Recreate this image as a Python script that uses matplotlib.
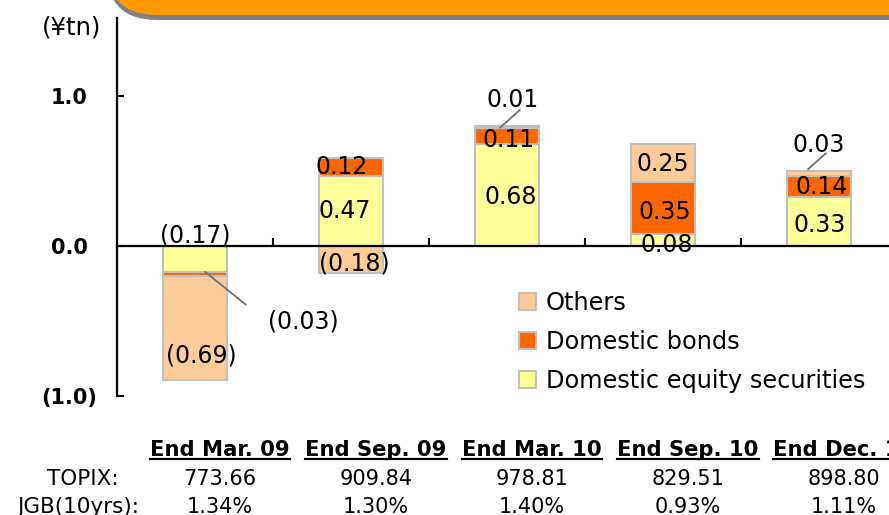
import matplotlib
matplotlib.use('Agg')
import matplotlib.pyplot as plt
import numpy as np
from matplotlib.patches import FancyBboxPatch, Patch
from matplotlib.lines import Line2D
from matplotlib.transforms import IdentityTransform, offset_copy, blended_transform_factory, ScaledTranslation

plt.rcParams['font.family'] = ['DejaVu Sans']

periods = ['End Mar. 09', 'End Sep. 09', 'End Mar. 10', 'End Sep. 10', 'End Dec. 10']
equity = [-0.17, 0.47, 0.68, 0.08, 0.33]
bonds = [-0.03, 0.12, 0.11, 0.35, 0.14]
others = [-0.69, -0.18, 0.01, 0.25, 0.03]
topix = ['773.66', '909.84', '978.81', '829.51', '898.80']
jgb = ['1.34%', '1.30%', '1.40%', '0.93%', '1.11%']

names = ['Domestic equity securities', 'Domestic bonds', 'Others']
colors = ['#FFFF99', '#FF6600', '#FFCC99']
edge = '#C0C0C0'

# label nudges in pixels (series, bar) -> (dx, dy)
nudge = {(0, 0): (0, 23), (2, 0): (6, -28), (2, 1): (3, -4), (0, 2): (4, -2),
         (1, 2): (2, -4), (2, 3): (0, -1), (1, 3): (2, -4), (0, 3): (4, -5),
         (0, 4): (1, -4), (1, 4): (3, -1), (0, 1): (-6, 0), (1, 1): (-9, 0)}
# small segments get a leader line: (line start, line end, text) in pixels
leaders = {(1, 0): ((10, 2), (51, -31), (108, -48)),
           (2, 2): ((-7, -1), (13, 17), (6, 27)),
           (2, 4): ((-11, 4), (7, 20), (0, 28))}

W, H = 889, 515
fig = plt.figure(figsize=(W / 100, H / 100), dpi=100)
ax = fig.add_axes([117 / W, (H - 396) / H, 780 / W, 378 / H])

x = np.arange(len(periods))
pos = np.zeros(len(x))
neg = np.zeros(len(x))
segs = []
for k, vals in enumerate([equity, bonds, others]):
    v = np.array(vals)
    bottom = np.where(v >= 0, pos, neg)
    ax.bar(x, v, 0.404, bottom=bottom, color=colors[k], edgecolor=edge, linewidth=1.5, zorder=2)
    for i in range(len(x)):
        segs.append((k, i, bottom[i] + v[i] / 2, v[i]))
    pos = pos + np.where(v >= 0, v, 0)
    neg = neg + np.where(v < 0, v, 0)

def fmt(v):
    return '(%.2f)' % abs(v) if v < 0 else '%.2f' % v

for k, i, yc, v in segs:
    if (k, i) in leaders:
        a, b, t = leaders[(k, i)]
        ax.annotate('', xy=(x[i], yc), xycoords=offset_copy(ax.transData, fig=fig, x=a[0], y=a[1], units='dots'),
                    xytext=(x[i], yc), textcoords=offset_copy(ax.transData, fig=fig, x=b[0], y=b[1], units='dots'),
                    arrowprops=dict(arrowstyle='-', color='#707070', lw=1.3, shrinkA=0, shrinkB=0), zorder=4)
        ax.annotate(fmt(v), (x[i], yc), xytext=t, textcoords='offset pixels',
                    ha='center', va='center', fontsize=17, zorder=5)
    else:
        dx, dy = nudge.get((k, i), (0, 0))
        ax.annotate(fmt(v), (x[i], yc), xytext=(dx, dy), textcoords='offset pixels',
                    ha='center', va='center', fontsize=17, zorder=5)

ax.set_xlim(-0.5, 4.5)
ax.set_ylim(-1.0, 1.52)
ax.spines['top'].set_visible(False)
ax.spines['right'].set_visible(False)
ax.spines['bottom'].set_position(('data', 0))
ax.spines['left'].set_linewidth(1.6)
ax.spines['bottom'].set_linewidth(1.6)
ax.spines['bottom'].set_zorder(3)
ax.set_xticks([0.5, 1.5, 2.5, 3.5])
ax.set_xticklabels([])
ax.tick_params(axis='x', direction='in', length=6, width=1.5)
ax.set_yticks([-1, 0, 1])
ax.set_yticklabels(['(1.0)', '0.0', '1.0'], fontsize=15, fontweight='bold')
ax.tick_params(axis='y', direction='in', length=5, width=1.5, pad=21)
lbl = ax.get_yticklabels()[0]
lbl.set_transform(lbl.get_transform() + ScaledTranslation(9 / 100, 0, fig.dpi_scale_trans))

handles = [Patch(facecolor=colors[k], edgecolor=edge, linewidth=1.5, label=names[k]) for k in [2, 1, 0]]
fig.legend(handles=handles, loc='upper left', bbox_to_anchor=(519 / W, 1 - 291 / H), frameon=False,
           fontsize=17.3, handlelength=0.72, handleheight=0.72, handletextpad=0.4,
           labelspacing=0.62, borderpad=0, borderaxespad=0)

fig.text(72 / W, 1 - 28 / H, '(¥tn)', fontsize=17.5, ha='center', va='center')

# header banner cut by the top edge
ident = IdentityTransform()
fig.add_artist(FancyBboxPatch((107, H - 20), 900, 80, boxstyle='round,pad=0,rounding_size=50',
                              transform=ident, facecolor='#808080', edgecolor='none'))
fig.add_artist(FancyBboxPatch((107, H - 15), 900, 80, boxstyle='round,pad=0,rounding_size=50',
                              transform=ident, facecolor='#FF9900', edgecolor='none'))

# table under the chart
tr = blended_transform_factory(ax.transData, ident)
heads = []
for i in range(len(x)):
    heads.append(fig.text(x[i] + 0.16, H - 456, periods[i], transform=tr, ha='center', va='baseline',
                          fontsize=15.2, fontweight='bold'))
    fig.text(x[i] + 0.16, H - 485, topix[i], transform=tr, ha='center', va='baseline', fontsize=15)
    fig.text(x[i] + 0.16, H - 513, jgb[i], transform=tr, ha='center', va='baseline', fontsize=15)
fig.text(83, H - 485, 'TOPIX:', transform=ident, ha='center', va='baseline', fontsize=15.5)
fig.text(78, H - 513, 'JGB(10yrs):', transform=ident, ha='center', va='baseline', fontsize=15.5)

fig.canvas.draw()
r = fig.canvas.get_renderer()
for t in heads:
    bb = t.get_window_extent(r)
    fig.add_artist(Line2D([bb.x0, bb.x1], [H - 458.5, H - 458.5], transform=ident, color='black', lw=1.6))

fig.savefig('out.png', dpi=100)
